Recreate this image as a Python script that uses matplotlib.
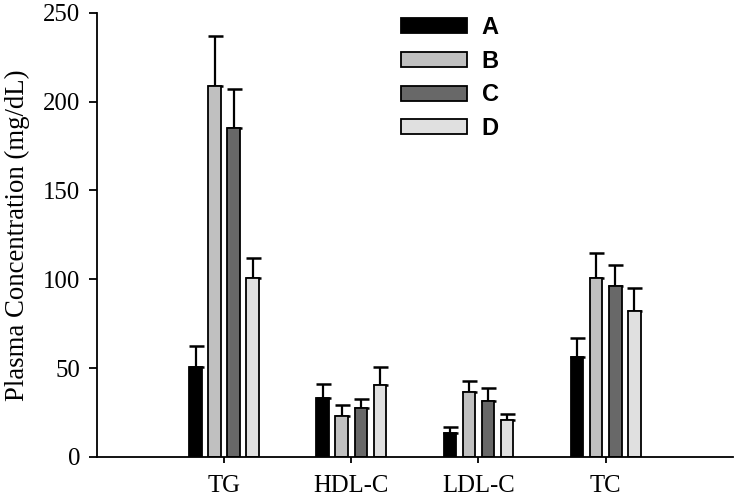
import matplotlib
matplotlib.use("Agg")
from matplotlib import pyplot as plt
import numpy as np

categories = ["TG", "HDL-C", "LDL-C", "TC"]
groups = ["A", "B", "C", "D"]
means_A = [50.5, 33.4, 13.3, 56]
means_B = [209, 23, 36.6, 101]
means_C = [185, 27.6, 31.7, 96]
means_D = [101, 40.4, 20.8, 82]
err_A = [12, 7.6, 3.4, 11]
err_B = [28, 6, 6.2, 14]
err_C = [22, 5.1, 7.3, 12]
err_D = [11, 10.1, 3.4, 13]

colors = ["#000000", "#c0c0c0", "#686868", "#e0e0e0"]
means = [means_A, means_B, means_C, means_D]
errs = [err_A, err_B, err_C, err_D]

fig = plt.figure(figsize=(7.35, 5.03), dpi=100)
ax = fig.add_axes([0.132, 0.0915, 0.865, 0.883])

x = np.arange(len(categories))
for i in range(4):
    pos = x + (i - 1.5) * 0.15
    ax.bar(pos, means[i], width=0.1, color=colors[i], edgecolor="black",
           linewidth=1.3, label=groups[i], zorder=2)
    ax.errorbar(pos, means[i], yerr=[np.zeros(4), errs[i]], fmt="none",
                ecolor="black", elinewidth=1.6, capsize=5.4, capthick=1.8, zorder=1)

ax.set_xlim(-1, 4)
ax.set_ylim(0, 250)
ax.set_yticks([0, 50, 100, 150, 200, 250])
ax.set_xticks(x)
ax.set_xticklabels(categories)
for s in ["top", "right"]:
    ax.spines[s].set_visible(False)
for s in ["left", "bottom"]:
    ax.spines[s].set_linewidth(1.3)
ax.tick_params(axis="both", direction="out", width=1.3, labelsize=17.8,
               labelfontfamily="Liberation Serif")
ax.tick_params(axis="y", length=6, pad=6)
ax.tick_params(axis="x", length=4, pad=9)
ax.set_ylabel("Plasma Concentration (mg/dL)", family="Liberation Serif",
              fontsize=19.3, labelpad=9)

leg = ax.legend(loc="upper left", bbox_to_anchor=(0.545, 0.968),
                bbox_transform=fig.transFigure, frameon=False, borderpad=0,
                borderaxespad=0, handlelength=2.8, handleheight=0.6,
                labelspacing=0.45, handletextpad=0.64,
                prop={"family": "Liberation Sans", "weight": "bold", "size": 17})

fig.savefig("out.png", dpi=100)
